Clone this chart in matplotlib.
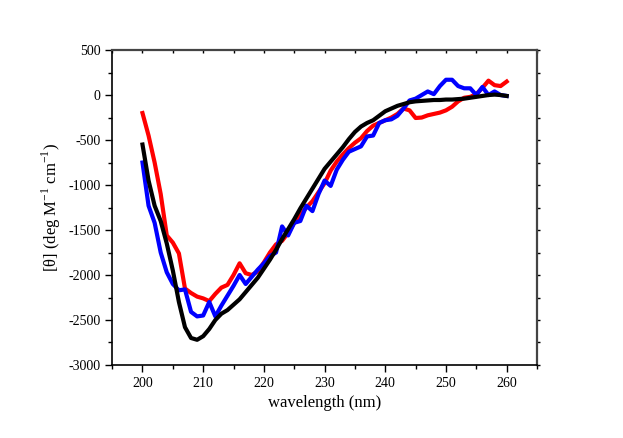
import matplotlib
matplotlib.use("Agg")
import matplotlib.pyplot as plt
from matplotlib.ticker import MultipleLocator

wavelength = list(range(200, 261))

red = [-200, -450, -750, -1100, -1560, -1640, -1760, -2150, -2200, -2240,
       -2260, -2290, -2210, -2140, -2110, -2000, -1870, -1980, -2000, -1960,
       -1860, -1750, -1660, -1620, -1530, -1420, -1330, -1250, -1180, -1080,
       -980, -840, -740, -660, -590, -530, -480, -400, -340, -310,
       -280, -250, -210, -150, -170, -255, -250, -225, -210, -195,
       -170, -130, -70, -30, -20, 10, 80, 160, 110, 100,
       150]

blue = [-750, -1230, -1420, -1750, -1970, -2100, -2170, -2160, -2410, -2460,
        -2450, -2300, -2460, -2340, -2230, -2120, -2000, -2100, -2020, -1940,
        -1870, -1790, -1750, -1460, -1560, -1420, -1400, -1230, -1290, -1100,
        -950, -1010, -830, -720, -630, -600, -570, -460, -450, -310,
        -280, -270, -230, -150, -60, -40, 0, 40, 10, 100,
        170, 170, 100, 75, 75, 0, 90, 0, 40, 0,
        -10]

black = [-550, -950, -1230, -1400, -1650, -1950, -2300, -2580, -2700, -2720,
         -2680, -2600, -2500, -2430, -2390, -2330, -2270, -2190, -2110, -2030,
         -1930, -1830, -1720, -1600, -1490, -1380, -1260, -1150, -1040, -930,
         -820, -740, -660, -580, -490, -410, -350, -310, -280, -230,
         -180, -150, -120, -100, -80, -70, -65, -60, -55, -55,
         -50, -50, -45, -40, -30, -20, -10, 0, 5, 0,
         -10]

plt.rcParams['font.family'] = ['Liberation Serif', 'DejaVu Serif']
plt.rcParams['mathtext.fontset'] = 'custom'
plt.rcParams['mathtext.rm'] = 'Liberation Serif'
plt.rcParams['axes.unicode_minus'] = False

fig = plt.figure(figsize=(6.23, 4.38), dpi=100)
ax = fig.add_axes([0.18, 0.1667, 0.682, 0.719])

ax.plot(wavelength, red, color='#ff0000', lw=3.0, solid_joinstyle='round')
ax.plot(wavelength, blue, color='#0000ff', lw=3.0, solid_joinstyle='round')
ax.plot(wavelength, black, color='#000000', lw=3.0, solid_joinstyle='round')

ax.set_xlim(195, 265)
ax.set_ylim(-3000, 500)
ax.set_xticks([200, 210, 220, 230, 240, 250, 260])
ax.xaxis.set_minor_locator(MultipleLocator(5))
ax.yaxis.set_major_locator(MultipleLocator(500))
ax.yaxis.set_minor_locator(MultipleLocator(250))

ax.tick_params(axis='both', which='major', direction='out', length=5, width=1, labelsize=10)
ax.tick_params(axis='both', which='minor', direction='out', length=3, width=1)
ax.tick_params(axis='x', which='both', top=True, labeltop=False)
ax.tick_params(axis='y', which='both', right=True, labelright=False)

# short grey ticks on top (inward) and right (outward)
for t in ax.xaxis.get_major_ticks() + ax.xaxis.get_minor_ticks():
    t.tick2line.set_markersize(2)
    t.tick2line.set_color('#888888')
    t.tick2line.set_marker(3)  # TICKDOWN-like: inward for top
for t in ax.yaxis.get_major_ticks() + ax.yaxis.get_minor_ticks():
    t.tick2line.set_markersize(2)
    t.tick2line.set_color('#888888')

for s in ax.spines.values():
    s.set_linewidth(1.2)
ax.spines['top'].set_color('#444444')
ax.spines['right'].set_color('#444444')
ax.spines['top'].set_linewidth(1.6)
ax.spines['right'].set_linewidth(1.6)

ax.set_xlabel('wavelength (nm)', fontsize=12)
ax.set_ylabel(r'[$\mathrm{\theta}$] (deg M$^{\mathrm{-1}}$ cm$^{\mathrm{-1}}$)', fontsize=12)

fig.savefig('out.png', dpi=100)
